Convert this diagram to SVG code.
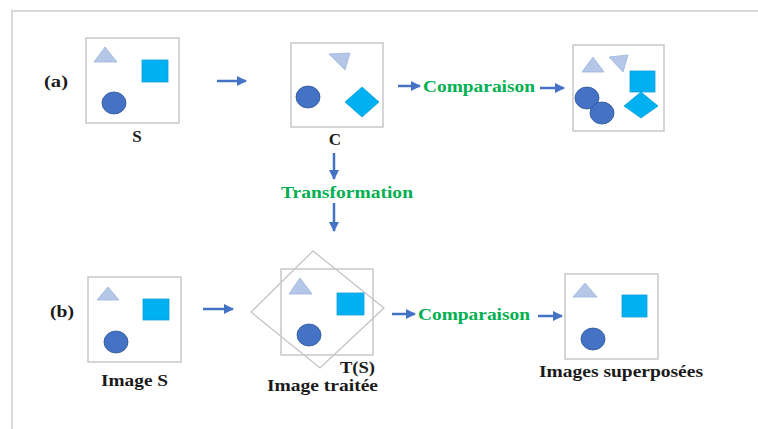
<svg xmlns="http://www.w3.org/2000/svg" width="758" height="429" viewBox="0 0 758 429">
<style>
.frame{fill:none;stroke:#D9D9D9;stroke-width:2}
.box{fill:#fff;stroke:#C8C8C8;stroke-width:1.5}
.rot{fill:none;stroke:#C0C0C0;stroke-width:1.2}
.tri{fill:#B4C7E7;stroke:#9DB5DE;stroke-width:0.8}
.sq{fill:#00B0F0;stroke:#0FA0DC;stroke-width:0.8}
.cir{fill:#4472C4;stroke:#2F5597;stroke-width:0.8}
.lbl{font-family:"Liberation Serif","Times New Roman",serif;font-weight:bold;font-size:17px;fill:#1A1A1A}
.grn{font-family:"Liberation Serif","Times New Roman",serif;font-weight:bold;font-size:17px;fill:#00B050}
.arr{stroke:#4472C4;stroke-width:2.5;fill:none;marker-end:url(#ah)}
</style>
<defs>
<marker id="ah" viewBox="0 0 10 10" refX="9" refY="5" markerWidth="4" markerHeight="4" orient="auto" markerUnits="strokeWidth">
<path d="M0,0 L10,5 L0,10 z" fill="#4472C4"/>
</marker>
</defs>
<rect width="758" height="429" fill="#fff"/>
<path class="frame" d="M12,429 V11 H758"/>

<g id="label-a"><text class="lbl" x="44" y="87" textLength="24" lengthAdjust="spacingAndGlyphs">(a)</text></g>
<g id="label-b"><text class="lbl" x="50" y="317" textLength="24" lengthAdjust="spacingAndGlyphs">(b)</text></g>

<g id="node-S">
<rect class="box" x="86" y="38" width="93" height="85"/>
<polygon class="tri" points="105,47 94,62 117,62"/>
<rect class="sq" x="142" y="60" width="26" height="22"/>
<ellipse class="cir" cx="114" cy="103" rx="12" ry="11"/>
<text class="lbl" x="137" y="142" text-anchor="middle">S</text>
</g>

<g id="node-C">
<rect class="box" x="291" y="43" width="92" height="84"/>
<polygon class="tri" points="329,54 350,53 345,70"/>
<ellipse class="cir" cx="308" cy="97" rx="12" ry="11"/>
<polygon class="sq" points="362,87 379,102 362,117 345,102"/>
<text class="lbl" x="335" y="145" text-anchor="middle">C</text>
</g>

<g id="node-superposed-a">
<rect class="box" x="573" y="45" width="91" height="86"/>
<polygon class="tri" points="593,57 582,72 604,72"/>
<polygon class="tri" points="609,57 628,55 623,72"/>
<rect class="sq" x="630" y="71" width="25" height="21"/>
<polygon class="sq" points="641,92 658,106 641,118 624,106"/>
<ellipse class="cir" cx="587" cy="98" rx="12" ry="11"/>
<ellipse class="cir" cx="602" cy="113" rx="12" ry="11"/>
</g>

<g id="node-imageS">
<rect class="box" x="88" y="277" width="93" height="85"/>
<polygon class="tri" points="108,287 97,300 119,300"/>
<rect class="sq" x="143" y="299" width="26" height="21"/>
<ellipse class="cir" cx="116" cy="342" rx="12" ry="11"/>
<text class="lbl" x="101" y="386" textLength="67" lengthAdjust="spacingAndGlyphs">Image S</text>
</g>

<g id="node-TS">
<polygon class="rot" points="251,312 313,251 384,308 320,368"/>
<rect class="box" x="281" y="269" width="92" height="86" fill="none" style="fill:none"/>
<polygon class="tri" points="300,278 289,294 312,294"/>
<rect class="sq" x="337" y="293" width="27" height="22"/>
<ellipse class="cir" cx="309" cy="335" rx="12" ry="11"/>
<text class="lbl" x="340" y="373" textLength="35" lengthAdjust="spacingAndGlyphs">T(S)</text>
<text class="lbl" x="267" y="391" textLength="111" lengthAdjust="spacingAndGlyphs">Image traitée</text>
</g>

<g id="node-superposed-b">
<rect class="box" x="565" y="274" width="93" height="85"/>
<polygon class="tri" points="585,283 573,297 597,297"/>
<rect class="sq" x="622" y="295" width="25" height="22"/>
<ellipse class="cir" cx="593" cy="339" rx="12" ry="11"/>
<text class="lbl" x="539" y="377" textLength="164" lengthAdjust="spacingAndGlyphs">Images superposées</text>
</g>

<g id="connectors">
<line class="arr" x1="217" y1="81" x2="246" y2="81"/>
<line class="arr" x1="398" y1="86" x2="420" y2="86"/>
<text class="grn" x="423" y="92" textLength="112" lengthAdjust="spacingAndGlyphs">Comparaison</text>
<line class="arr" x1="540" y1="88" x2="564" y2="88"/>
<line class="arr" x1="334" y1="153" x2="334" y2="179"/>
<text class="grn" x="281" y="198" textLength="132" lengthAdjust="spacingAndGlyphs">Transformation</text>
<line class="arr" x1="334" y1="203" x2="334" y2="231"/>
<line class="arr" x1="203" y1="309" x2="233" y2="309"/>
<line class="arr" x1="392" y1="314" x2="415" y2="314"/>
<text class="grn" x="418" y="320" textLength="112" lengthAdjust="spacingAndGlyphs">Comparaison</text>
<line class="arr" x1="538" y1="316" x2="562" y2="316"/>
</g>
</svg>
